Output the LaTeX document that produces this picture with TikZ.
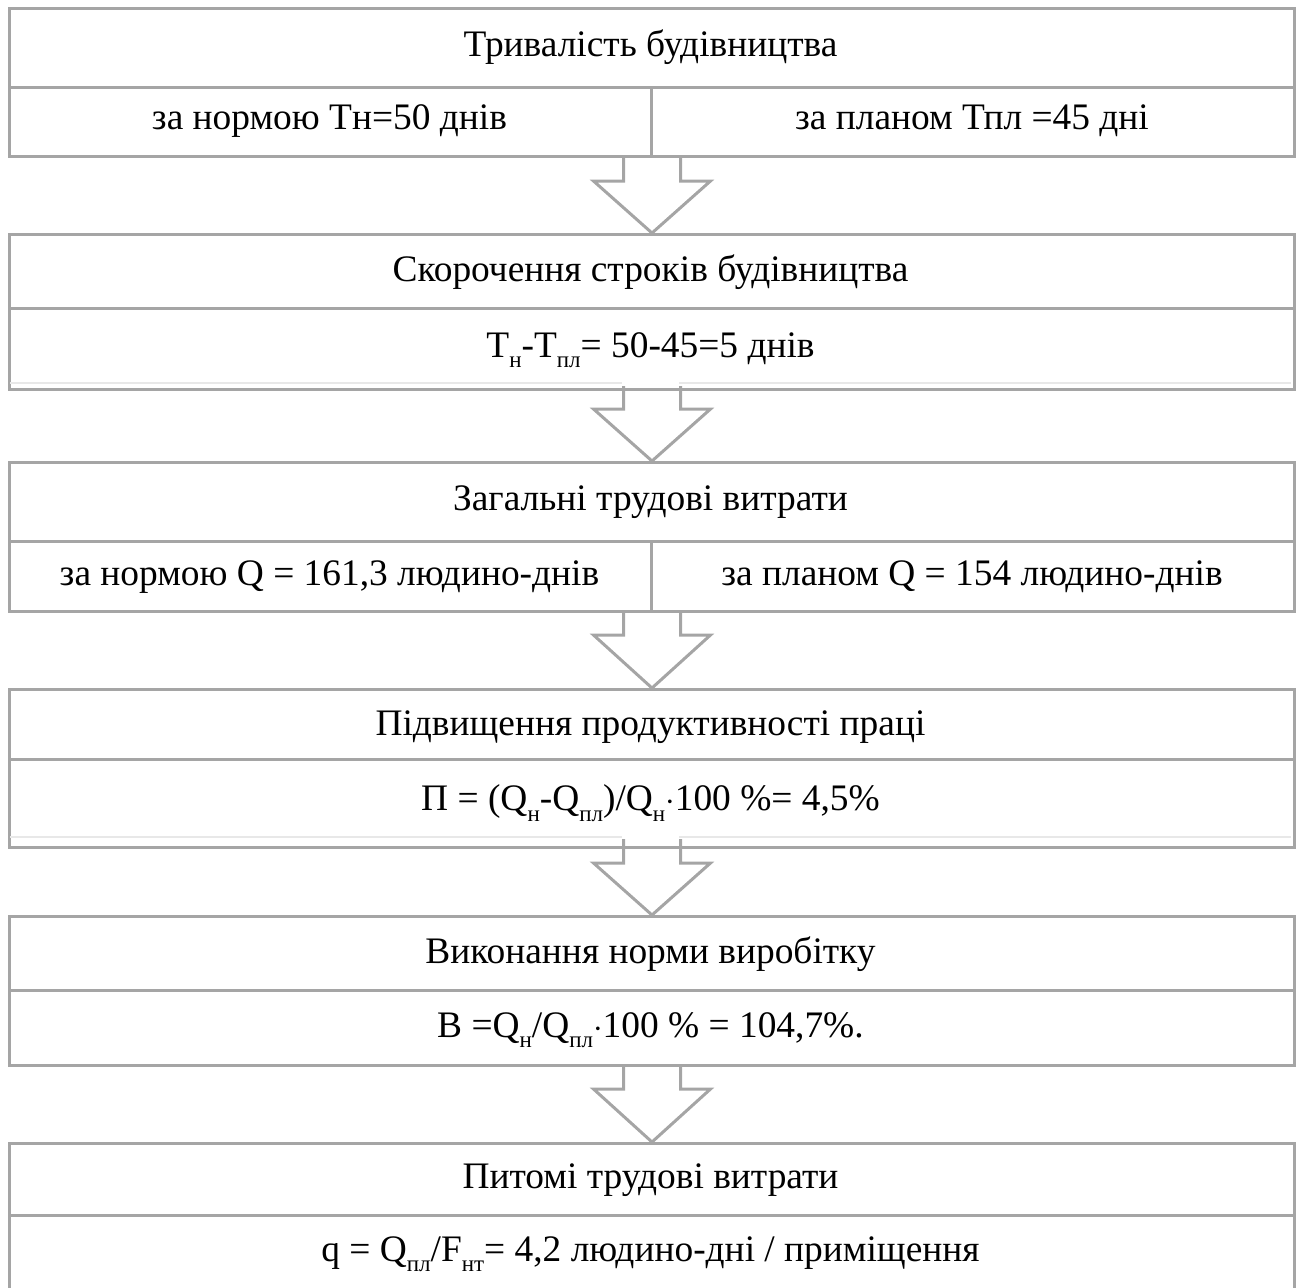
\documentclass[tikz,border=0pt]{standalone}
\usepackage{fontspec}
\setmainfont{Liberation Serif}
\usetikzlibrary{calc}
\definecolor{lc}{RGB}{165,165,165}
\definecolor{lightc}{RGB}{232,232,232}
\newcommand\lowsub[1]{\raisebox{-0.28em}{\fontsize{11.5}{12}\selectfont #1}}
\newcommand\flowarr[4]{%
  \draw[flowline] ($(#1.south)+(-28.5,#4)$) -- ($(#1.south)+(-28.5,#3)$)
    -- ($(#1.south)+(-58.5,#3)$) -- (#2.north) -- ($(#1.south)+(58.5,#3)$)
    -- ($(#1.south)+(28.5,#3)$) -- ($(#1.south)+(28.5,#4)$);}
\begin{document}
\begin{tikzpicture}[x=0.5pt,y=-0.5pt,
  box/.style={draw=lc,line width=1.5pt,rectangle,inner sep=0pt,anchor=north west,minimum width=642.5pt},
  sepline/.style={draw=lc,line width=1.5pt},
  faint/.style={draw=lightc,line width=1.2pt},
  lbl/.style={font=\fontsize{18.7}{22}\selectfont,inner sep=0pt},
  flowline/.style={draw=lc,line width=1.5pt,line join=miter}]
\useasboundingbox (0,0) rectangle (1300,1287);

% boxes
\node[box,minimum height=74.25pt] (b1) at (8,6.5) {};
\node[box,minimum height=77.5pt] (b2) at (8,233) {};
\node[box,minimum height=74.5pt] (b3) at (8,461) {};
\node[box,minimum height=79pt] (b4) at (8,688) {};
\node[box,minimum height=74.5pt] (b5) at (8,915) {};
\node[box,minimum height=73pt] (b6) at (8,1142) {};

% inner separators
\draw[sepline] (8,87) -- (1293,87);
\draw[sepline] (651,87) -- (651,155);
\draw[sepline] (8,308) -- (1293,308);
\draw[sepline] (8,541) -- (1293,541);
\draw[sepline] (651,541) -- (651,610);
\draw[sepline] (8,759) -- (1293,759);
\draw[sepline] (8,990) -- (1293,990);
\draw[sepline] (8,1215) -- (1293,1215);

% faint lines
\draw[faint] (10,383) -- (622,383);
\draw[faint] (679,383) -- (1291,383);
\draw[faint] (10,837) -- (622,837);
\draw[faint] (679,837) -- (1291,837);

% arrows
\flowarr{b1}{b2}{23}{0}
\flowarr{b2}{b3}{18}{-5}
\flowarr{b3}{b4}{22}{0}
\flowarr{b4}{b5}{14}{-10}
\flowarr{b5}{b6}{22}{0}

% texts
\node[lbl] (t1) at (650.5,47) {Тривалість будівництва};
\node[lbl] (t1a) at (329.5,121) {за нормою Тн=50 днів};
\node[lbl] (t1b) at (972,121) {за планом Тпл =45 дні};
\node[lbl] (t2) at (650.5,272) {Скорочення строків будівництва};
\node[lbl] (t2a) at (650.5,350) {Т\lowsub{н}-Т\lowsub{пл}= 50-45=5 днів};
\node[lbl] (t3) at (650.5,502) {Загальні трудові витрати};
\node[lbl] (t3a) at (329.5,577) {за нормою Q = 161,3 людино-днів};
\node[lbl] (t3b) at (972,577) {за планом Q = 154 людино-днів};
\node[lbl] (t4) at (650.5,727) {Підвищення продуктивності праці};
\node[lbl] (t4a) at (650.5,803) {П = (Q\lowsub{н}-Q\lowsub{пл})/Q\lowsub{н}$\cdot$100 \%= 4,5\%};
\node[lbl] (t5) at (650.5,954) {Виконання норми виробітку};
\node[lbl] (t5a) at (650.5,1030) {В =Q\lowsub{н}/Q\lowsub{пл}$\cdot$100 \% = 104,7\%.};
\node[lbl] (t6) at (650.5,1180) {Питомі трудові витрати};
\node[lbl] (t6a) at (650.5,1254) {q = Q\lowsub{пл}/F\lowsub{нт}= 4,2 людино-дні / приміщення};
\end{tikzpicture}
\end{document}
